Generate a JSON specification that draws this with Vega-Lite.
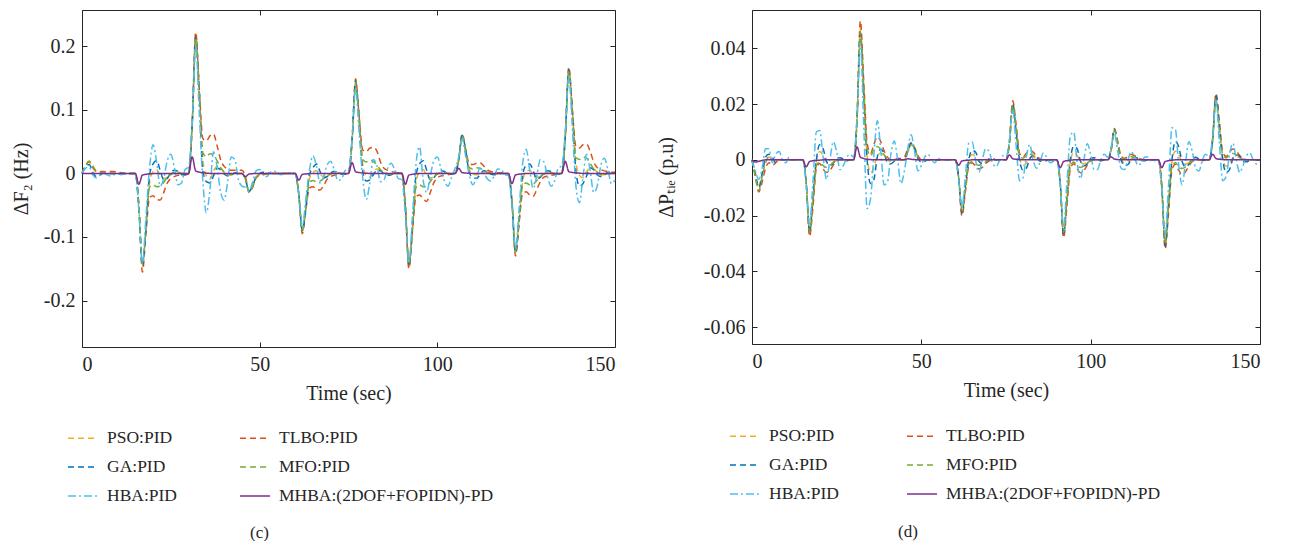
{
"$schema": "https://vega.github.io/schema/vega-lite/v6.json",
"padding": {"left": 11, "top": 6, "right": 0, "bottom": 0},
"spacing": 38,
"resolve": {"scale": {"color": "independent", "strokeDash": "independent"}, "legend": {"color": "independent", "strokeDash": "independent"}},
"config": {
 "font": "Liberation Serif",
 "view": {"stroke": null},
 "axis": {"domainColor": "#262626", "tickColor": "#262626", "labelColor": "#262626", "titleColor": "#262626", "labelFont": "Liberation Serif", "titleFont": "Liberation Serif", "labelFontSize": 20, "titleFontSize": 20, "titleFontWeight": "normal", "grid": false, "tickSize": -5, "domainWidth": 1, "tickWidth": 1},
 "legend": {"labelFont": "Liberation Serif", "labelFontSize": 17.5, "labelColor": "#262626"}
},
"datasets": {
"c": [
{"t":0,"P":0,"T":0,"G":0,"M":0,"H":0,"X":0},
{"t":1,"P":0.011,"T":0.012,"G":0.01,"M":0.012,"H":0.008,"X":0},
{"t":2,"P":0.018,"T":0.019,"G":0.014,"M":0.019,"H":0.01,"X":0},
{"t":3,"P":0.009,"T":0.01,"G":0.002,"M":0.012,"H":-0.002,"X":0},
{"t":4,"P":0.002,"T":0.004,"G":-0.005,"M":0.004,"H":-0.007,"X":0},
{"t":5,"P":0,"T":0.003,"G":-0.003,"M":0.002,"H":-0.003,"X":0},
{"t":6,"P":0,"T":0.003,"G":0.001,"M":0.001,"H":0.001,"X":0},
{"t":7,"P":0,"T":0.002,"G":0,"M":0,"H":-0.002,"X":0},
{"t":8,"P":0,"T":0.003,"G":0,"M":0,"H":-0.004,"X":0},
{"t":9,"P":0,"T":0.003,"G":0,"M":0,"H":-0.002,"X":0},
{"t":10,"P":0,"T":0.002,"G":0,"M":0,"H":0,"X":0},
{"t":11,"P":0,"T":0.001,"G":0,"M":0,"H":-0.002,"X":0},
{"t":12,"P":0,"T":0,"G":0,"M":0,"H":-0.001,"X":0},
{"t":13,"P":0,"T":0,"G":0,"M":0,"H":0,"X":0},
{"t":15,"P":0,"T":0,"G":0,"M":0,"H":0,"X":0},
{"t":16,"P":-0.051,"T":-0.054,"G":-0.051,"M":-0.05,"H":-0.057,"X":-0.017},
{"t":17,"P":-0.147,"T":-0.155,"G":-0.145,"M":-0.143,"H":-0.143,"X":-0.0025},
{"t":18,"P":-0.088,"T":-0.093,"G":-0.087,"M":-0.086,"H":-0.068,"X":-0.0014},
{"t":19,"P":-0.015,"T":-0.038,"G":-0.003,"M":-0.022,"H":0.008,"X":-0.0007},
{"t":20,"P":0.003,"T":-0.035,"G":0.015,"M":-0.018,"H":0.045,"X":-0.0003},
{"t":21,"P":0.006,"T":-0.041,"G":0.02,"M":-0.021,"H":0.018,"X":0},
{"t":22,"P":-0.003,"T":-0.042,"G":0.005,"M":-0.02,"H":-0.02,"X":0},
{"t":23,"P":-0.008,"T":-0.03,"G":-0.01,"M":-0.014,"H":-0.008,"X":0},
{"t":24,"P":-0.006,"T":-0.015,"G":-0.008,"M":-0.006,"H":0.02,"X":0},
{"t":25,"P":-0.002,"T":-0.008,"G":0.002,"M":-0.002,"H":0.03,"X":0},
{"t":26,"P":0.002,"T":-0.005,"G":0.005,"M":0.002,"H":0.009,"X":0},
{"t":27,"P":0.002,"T":-0.003,"G":0.003,"M":0.002,"H":-0.018,"X":0},
{"t":28,"P":0,"T":-0.002,"G":-0.002,"M":0,"H":-0.015,"X":0},
{"t":29,"P":0,"T":-0.002,"G":-0.002,"M":0,"H":0.006,"X":0},
{"t":30,"P":0,"T":-0.001,"G":-0.001,"M":0,"H":0.01,"X":0},
{"t":31,"P":0.075,"T":0.078,"G":0.075,"M":0.075,"H":0.08,"X":0.026},
{"t":32,"P":0.215,"T":0.222,"G":0.215,"M":0.213,"H":0.2,"X":0.004},
{"t":33,"P":0.129,"T":0.133,"G":0.129,"M":0.128,"H":0.095,"X":0.002},
{"t":34,"P":0.022,"T":0.055,"G":0.004,"M":0.033,"H":-0.011,"X":0.001},
{"t":35,"P":-0.004,"T":0.051,"G":-0.013,"M":0.026,"H":-0.062,"X":0.0005},
{"t":36,"P":-0.009,"T":0.059,"G":-0.015,"M":0.031,"H":-0.026,"X":0},
{"t":37,"P":0.004,"T":0.062,"G":-0.004,"M":0.029,"H":0.034,"X":0},
{"t":38,"P":0.011,"T":0.044,"G":0.008,"M":0.02,"H":0.011,"X":0},
{"t":39,"P":0.009,"T":0.022,"G":0.006,"M":0.009,"H":-0.029,"X":0},
{"t":40,"P":0.002,"T":0.011,"G":-0.001,"M":0.002,"H":-0.042,"X":0},
{"t":41,"P":-0.002,"T":0.007,"G":-0.004,"M":-0.002,"H":-0.013,"X":0},
{"t":42,"P":-0.002,"T":0.005,"G":-0.003,"M":-0.002,"H":0.026,"X":0},
{"t":43,"P":0,"T":0.005,"G":0.001,"M":0,"H":0.022,"X":0},
{"t":44,"P":0,"T":0.005,"G":0.001,"M":0,"H":-0.009,"X":0},
{"t":45,"P":0,"T":0.005,"G":0,"M":0,"H":-0.02,"X":0},
{"t":46,"P":-0.009,"T":-0.005,"G":-0.009,"M":-0.009,"H":-0.022,"X":-0.005},
{"t":47,"P":-0.029,"T":-0.03,"G":-0.028,"M":-0.029,"H":-0.028,"X":-0.001},
{"t":48,"P":-0.021,"T":-0.022,"G":-0.02,"M":-0.021,"H":-0.014,"X":-0.0005},
{"t":49,"P":-0.006,"T":-0.007,"G":-0.005,"M":-0.006,"H":0.004,"X":0},
{"t":50,"P":-0.0015,"T":-0.003,"G":0,"M":-0.002,"H":0.006,"X":0},
{"t":51,"P":0,"T":-0.002,"G":0.002,"M":-0.001,"H":-0.003,"X":0},
{"t":52,"P":0,"T":-0.001,"G":0.001,"M":0,"H":-0.005,"X":0},
{"t":53,"P":0,"T":0,"G":0,"M":0,"H":0.002,"X":0},
{"t":54,"P":0,"T":0,"G":0,"M":0,"H":0.004,"X":0},
{"t":55,"P":0,"T":0,"G":0,"M":0,"H":0,"X":0},
{"t":56,"P":0,"T":0,"G":0,"M":0,"H":-0.002,"X":0},
{"t":57,"P":0,"T":0,"G":0,"M":0,"H":0,"X":0},
{"t":58,"P":0,"T":0,"G":0,"M":0,"H":0.001,"X":0},
{"t":60,"P":0,"T":0,"G":0,"M":0,"H":0,"X":0},
{"t":61,"P":-0.032,"T":-0.033,"G":-0.032,"M":-0.032,"H":-0.033,"X":-0.0105},
{"t":62,"P":-0.091,"T":-0.095,"G":-0.09,"M":-0.09,"H":-0.084,"X":-0.0016},
{"t":63,"P":-0.055,"T":-0.057,"G":-0.054,"M":-0.054,"H":-0.04,"X":-0.0008},
{"t":64,"P":-0.009,"T":-0.023,"G":-0.002,"M":-0.014,"H":0.005,"X":-0.0004},
{"t":65,"P":0.002,"T":-0.021,"G":0.009,"M":-0.011,"H":0.028,"X":0},
{"t":66,"P":0.004,"T":-0.025,"G":0.015,"M":-0.013,"H":0.011,"X":0},
{"t":67,"P":-0.002,"T":-0.026,"G":0.003,"M":-0.012,"H":-0.015,"X":0},
{"t":68,"P":-0.005,"T":-0.019,"G":-0.007,"M":-0.008,"H":-0.005,"X":0},
{"t":69,"P":-0.004,"T":-0.009,"G":-0.005,"M":-0.004,"H":0.014,"X":0},
{"t":70,"P":-0.001,"T":-0.005,"G":0.001,"M":-0.001,"H":0.019,"X":0},
{"t":71,"P":0.001,"T":-0.003,"G":0.003,"M":0.001,"H":0.006,"X":0},
{"t":72,"P":0.001,"T":-0.002,"G":0.002,"M":0.001,"H":-0.011,"X":0},
{"t":73,"P":0,"T":-0.001,"G":-0.001,"M":0,"H":-0.009,"X":0},
{"t":74,"P":0,"T":-0.001,"G":-0.001,"M":0,"H":0.004,"X":0},
{"t":75,"P":0,"T":0,"G":0,"M":0,"H":0.006,"X":0},
{"t":76,"P":0.051,"T":0.052,"G":0.051,"M":0.05,"H":0.053,"X":0.017},
{"t":77,"P":0.145,"T":0.149,"G":0.145,"M":0.143,"H":0.133,"X":0.0026},
{"t":78,"P":0.087,"T":0.089,"G":0.087,"M":0.086,"H":0.063,"X":0.0014},
{"t":79,"P":0.015,"T":0.037,"G":0.003,"M":0.022,"H":-0.007,"X":0.0007},
{"t":80,"P":-0.003,"T":0.034,"G":-0.012,"M":0.018,"H":-0.041,"X":0.0003},
{"t":81,"P":-0.006,"T":0.04,"G":-0.01,"M":0.021,"H":-0.015,"X":0},
{"t":82,"P":0.003,"T":0.041,"G":-0.002,"M":0.019,"H":0.022,"X":0},
{"t":83,"P":0.007,"T":0.035,"G":0.005,"M":0.013,"H":0.012,"X":0},
{"t":84,"P":0.006,"T":0.018,"G":0.004,"M":0.006,"H":-0.013,"X":0},
{"t":85,"P":0.001,"T":0.008,"G":-0.001,"M":0.001,"H":-0.01,"X":0},
{"t":86,"P":-0.001,"T":0.005,"G":-0.003,"M":-0.001,"H":0.008,"X":0},
{"t":87,"P":-0.001,"T":0.003,"G":-0.002,"M":-0.001,"H":0.016,"X":0},
{"t":88,"P":0,"T":0.002,"G":0.001,"M":0,"H":0.006,"X":0},
{"t":89,"P":0,"T":0.001,"G":0.001,"M":0,"H":-0.008,"X":0},
{"t":90,"P":0,"T":0.001,"G":0,"M":0,"H":-0.01,"X":0},
{"t":91,"P":-0.051,"T":-0.052,"G":-0.051,"M":-0.05,"H":-0.066,"X":-0.017},
{"t":92,"P":-0.146,"T":-0.15,"G":-0.145,"M":-0.143,"H":-0.14,"X":-0.0026},
{"t":93,"P":-0.088,"T":-0.09,"G":-0.087,"M":-0.086,"H":-0.066,"X":-0.0014},
{"t":94,"P":-0.015,"T":-0.037,"G":-0.003,"M":-0.022,"H":0.015,"X":-0.0007},
{"t":95,"P":0.003,"T":-0.034,"G":0.015,"M":-0.018,"H":0.042,"X":-0.0003},
{"t":96,"P":0.006,"T":-0.04,"G":0.02,"M":-0.021,"H":-0.01,"X":0},
{"t":97,"P":-0.003,"T":-0.044,"G":0.005,"M":-0.02,"H":-0.03,"X":0},
{"t":98,"P":-0.007,"T":-0.03,"G":-0.01,"M":-0.013,"H":-0.005,"X":0},
{"t":99,"P":-0.006,"T":-0.015,"G":-0.007,"M":-0.006,"H":0.02,"X":0},
{"t":100,"P":-0.001,"T":-0.007,"G":0.001,"M":-0.001,"H":0.026,"X":0},
{"t":101,"P":0.001,"T":-0.004,"G":0.004,"M":0.001,"H":0.008,"X":0},
{"t":102,"P":0.001,"T":-0.003,"G":0.003,"M":0.001,"H":-0.012,"X":0},
{"t":103,"P":0,"T":-0.002,"G":-0.001,"M":0,"H":-0.02,"X":0},
{"t":104,"P":0,"T":-0.001,"G":-0.001,"M":0,"H":-0.006,"X":0},
{"t":105,"P":0,"T":0,"G":0,"M":0,"H":0.008,"X":0},
{"t":106,"P":0.021,"T":0.022,"G":0.021,"M":0.021,"H":0.025,"X":0.008},
{"t":107,"P":0.06,"T":0.062,"G":0.06,"M":0.059,"H":0.054,"X":0.0012},
{"t":108,"P":0.036,"T":0.037,"G":0.036,"M":0.035,"H":0.026,"X":0.0006},
{"t":109,"P":0.006,"T":0.015,"G":0.001,"M":0.009,"H":-0.003,"X":0.0003},
{"t":110,"P":-0.001,"T":0.014,"G":-0.006,"M":0.007,"H":-0.018,"X":0},
{"t":111,"P":-0.002,"T":0.016,"G":-0.008,"M":0.009,"H":-0.007,"X":0},
{"t":112,"P":0.001,"T":0.017,"G":-0.002,"M":0.008,"H":0.008,"X":0},
{"t":113,"P":0.003,"T":0.012,"G":0.004,"M":0.005,"H":0.003,"X":0},
{"t":114,"P":0.002,"T":0.006,"G":0.003,"M":0.002,"H":-0.008,"X":0},
{"t":115,"P":0.001,"T":0.003,"G":-0.001,"M":0.001,"H":-0.012,"X":0},
{"t":116,"P":-0.001,"T":0.002,"G":-0.002,"M":-0.001,"H":-0.004,"X":0},
{"t":117,"P":0,"T":0.001,"G":-0.001,"M":0,"H":0.007,"X":0},
{"t":118,"P":0,"T":0.001,"G":0,"M":0,"H":0.006,"X":0},
{"t":119,"P":0,"T":0,"G":0,"M":0,"H":-0.002,"X":0},
{"t":120,"P":0,"T":0,"G":0,"M":0,"H":-0.003,"X":0},
{"t":121,"P":-0.044,"T":-0.046,"G":-0.044,"M":-0.043,"H":-0.05,"X":-0.016},
{"t":122,"P":-0.125,"T":-0.13,"G":-0.125,"M":-0.122,"H":-0.118,"X":-0.0024},
{"t":123,"P":-0.075,"T":-0.078,"G":-0.075,"M":-0.073,"H":-0.056,"X":-0.0013},
{"t":124,"P":-0.013,"T":-0.032,"G":-0.003,"M":-0.019,"H":0.015,"X":-0.0006},
{"t":125,"P":0.003,"T":-0.029,"G":0.013,"M":-0.015,"H":0.038,"X":0},
{"t":126,"P":0.005,"T":-0.034,"G":0.015,"M":-0.018,"H":0.005,"X":0},
{"t":127,"P":-0.003,"T":-0.036,"G":0.004,"M":-0.017,"H":-0.024,"X":0},
{"t":128,"P":-0.006,"T":-0.025,"G":-0.009,"M":-0.011,"H":-0.003,"X":0},
{"t":129,"P":-0.005,"T":-0.013,"G":-0.006,"M":-0.005,"H":0.022,"X":0},
{"t":130,"P":-0.001,"T":-0.006,"G":0.001,"M":-0.001,"H":0.018,"X":0},
{"t":131,"P":0.001,"T":-0.004,"G":0.004,"M":0.001,"H":-0.005,"X":0},
{"t":132,"P":0.001,"T":-0.003,"G":0.003,"M":0.001,"H":-0.02,"X":0},
{"t":133,"P":0,"T":-0.002,"G":-0.001,"M":0,"H":-0.012,"X":0},
{"t":134,"P":0,"T":-0.001,"G":-0.001,"M":0,"H":0.008,"X":0},
{"t":135,"P":0,"T":0,"G":0,"M":0,"H":0.012,"X":0},
{"t":136,"P":0.057,"T":0.058,"G":0.057,"M":0.056,"H":0.065,"X":0.019},
{"t":137,"P":0.164,"T":0.167,"G":0.163,"M":0.16,"H":0.152,"X":0.0029},
{"t":138,"P":0.098,"T":0.1,"G":0.098,"M":0.096,"H":0.072,"X":0.0015},
{"t":139,"P":0.017,"T":0.042,"G":0.003,"M":0.025,"H":-0.02,"X":0.0008},
{"t":140,"P":-0.003,"T":0.04,"G":-0.02,"M":0.022,"H":-0.046,"X":0.0004},
{"t":141,"P":-0.007,"T":0.045,"G":-0.016,"M":0.026,"H":-0.005,"X":0},
{"t":142,"P":0.003,"T":0.046,"G":-0.004,"M":0.024,"H":0.03,"X":0},
{"t":143,"P":0.008,"T":0.035,"G":0.009,"M":0.016,"H":0.005,"X":0},
{"t":144,"P":0.007,"T":0.018,"G":0.006,"M":0.007,"H":-0.03,"X":0},
{"t":145,"P":0.002,"T":0.009,"G":-0.002,"M":0.002,"H":-0.02,"X":0},
{"t":146,"P":-0.002,"T":0.006,"G":-0.005,"M":-0.002,"H":0.012,"X":0},
{"t":147,"P":-0.002,"T":0.004,"G":-0.003,"M":-0.002,"H":0.024,"X":0},
{"t":148,"P":0,"T":0.003,"G":0.002,"M":0,"H":0.006,"X":0},
{"t":149,"P":0,"T":0.002,"G":0.002,"M":0,"H":-0.016,"X":0},
{"t":150,"P":0,"T":0.002,"G":0.001,"M":0,"H":-0.01,"X":0}
],
"d": [
{"t":0,"P":0,"T":0,"G":0,"M":0,"H":0,"X":0},
{"t":1,"P":-0.005,"T":-0.006,"G":-0.005,"M":-0.006,"H":-0.004,"X":-0.0008},
{"t":2,"P":-0.01,"T":-0.0115,"G":-0.01,"M":-0.011,"H":-0.007,"X":-0.0005},
{"t":3,"P":-0.005,"T":-0.008,"G":-0.005,"M":-0.006,"H":-0.003,"X":-0.0002},
{"t":4,"P":0,"T":-0.003,"G":0.001,"M":-0.001,"H":0.004,"X":0},
{"t":5,"P":0.001,"T":-0.001,"G":0.002,"M":0.001,"H":0.004,"X":0},
{"t":6,"P":0,"T":-0.002,"G":0.001,"M":0,"H":-0.001,"X":0},
{"t":7,"P":0,"T":-0.001,"G":-0.001,"M":0,"H":0.002,"X":0},
{"t":8,"P":0,"T":0,"G":0,"M":0,"H":0.003,"X":0},
{"t":9,"P":0,"T":0,"G":0,"M":0,"H":0,"X":0},
{"t":10,"P":0,"T":0,"G":0,"M":0,"H":-0.001,"X":0},
{"t":11,"P":0,"T":0,"G":0,"M":0,"H":0.001,"X":0},
{"t":12,"P":0,"T":0,"G":0,"M":0,"H":0,"X":0},
{"t":15,"P":0,"T":0,"G":0,"M":0,"H":0,"X":0},
{"t":16,"P":-0.008,"T":-0.0085,"G":-0.008,"M":-0.008,"H":-0.009,"X":-0.0025},
{"t":17,"P":-0.026,"T":-0.0275,"G":-0.026,"M":-0.026,"H":-0.023,"X":-0.0006},
{"t":18,"P":-0.014,"T":-0.017,"G":-0.013,"M":-0.015,"H":-0.008,"X":-0.0003},
{"t":19,"P":-0.0005,"T":-0.003,"G":0,"M":-0.002,"H":0.01,"X":-0.0002},
{"t":20,"P":0.003,"T":-0.0013,"G":0.0054,"M":-0.0008,"H":0.0105,"X":-0.0001},
{"t":21,"P":0.0016,"T":-0.0033,"G":0.004,"M":-0.002,"H":0.001,"X":0},
{"t":22,"P":-0.0008,"T":-0.0045,"G":-0.0005,"M":-0.0027,"H":-0.007,"X":0},
{"t":23,"P":-0.0013,"T":-0.0038,"G":-0.002,"M":-0.002,"H":0,"X":0},
{"t":24,"P":-0.0008,"T":-0.0019,"G":-0.0013,"M":-0.001,"H":0.0065,"X":0},
{"t":25,"P":0,"T":-0.0005,"G":0.0005,"M":-0.0003,"H":0.003,"X":0},
{"t":26,"P":0.0003,"T":0,"G":0.0008,"M":0,"H":-0.0035,"X":0},
{"t":27,"P":0,"T":0,"G":0.0003,"M":0,"H":-0.002,"X":0},
{"t":28,"P":0,"T":-0.0003,"G":-0.0003,"M":0,"H":0.001,"X":0},
{"t":29,"P":0,"T":0,"G":0,"M":0,"H":0.002,"X":0},
{"t":30,"P":0,"T":0,"G":0,"M":0,"H":0.001,"X":0},
{"t":31,"P":0.014,"T":0.015,"G":0.014,"M":0.014,"H":0.015,"X":0.0047},
{"t":32,"P":0.047,"T":0.0499,"G":0.0455,"M":0.046,"H":0.042,"X":0.001},
{"t":33,"P":0.024,"T":0.028,"G":0.023,"M":0.026,"H":0.012,"X":0.0005},
{"t":34,"P":0.001,"T":0.006,"G":0,"M":0.004,"H":-0.0175,"X":0.0002},
{"t":35,"P":-0.0047,"T":0.0024,"G":-0.0085,"M":0.0014,"H":-0.014,"X":0.0001},
{"t":36,"P":-0.0028,"T":0.0056,"G":-0.007,"M":0.0038,"H":0.002,"X":0},
{"t":37,"P":0.0014,"T":0.0083,"G":0.001,"M":0.0048,"H":0.014,"X":0},
{"t":38,"P":0.0024,"T":0.0066,"G":0.0038,"M":0.0038,"H":0.004,"X":0},
{"t":39,"P":0.0014,"T":0.0033,"G":0.0024,"M":0.0019,"H":-0.009,"X":0},
{"t":40,"P":0,"T":0.001,"G":-0.001,"M":0.0005,"H":-0.008,"X":0},
{"t":41,"P":-0.0005,"T":0,"G":-0.0014,"M":0,"H":0.002,"X":0},
{"t":42,"P":0,"T":0,"G":-0.0005,"M":0,"H":0.0068,"X":0},
{"t":43,"P":0,"T":0.0005,"G":0.0005,"M":0,"H":0,"X":0},
{"t":44,"P":0,"T":0.0005,"G":0,"M":0,"H":-0.0085,"X":0},
{"t":45,"P":0,"T":0.001,"G":0,"M":0,"H":-0.004,"X":0},
{"t":46,"P":0.003,"T":0.004,"G":0.003,"M":0.003,"H":0.004,"X":0.0004},
{"t":47,"P":0.0055,"T":0.0062,"G":0.006,"M":0.0055,"H":0.009,"X":0.0002},
{"t":48,"P":0.004,"T":0.0045,"G":0.004,"M":0.004,"H":0.003,"X":0.0001},
{"t":49,"P":0.001,"T":0.0015,"G":0.0005,"M":0.001,"H":-0.004,"X":0},
{"t":50,"P":0,"T":0,"G":-0.0008,"M":0,"H":-0.002,"X":0},
{"t":51,"P":0,"T":0,"G":-0.0005,"M":0,"H":0.001,"X":0},
{"t":52,"P":0,"T":0,"G":0,"M":0,"H":0.002,"X":0},
{"t":53,"P":0,"T":0,"G":0,"M":0,"H":0,"X":0},
{"t":54,"P":0,"T":0,"G":0,"M":0,"H":-0.001,"X":0},
{"t":55,"P":0,"T":0,"G":0,"M":0,"H":0.0005,"X":0},
{"t":56,"P":0,"T":0,"G":0,"M":0,"H":0,"X":0},
{"t":60,"P":0,"T":0,"G":0,"M":0,"H":0,"X":0},
{"t":61,"P":-0.006,"T":-0.0065,"G":-0.006,"M":-0.006,"H":-0.007,"X":-0.0019},
{"t":62,"P":-0.019,"T":-0.0201,"G":-0.019,"M":-0.018,"H":-0.017,"X":-0.0004},
{"t":63,"P":-0.0095,"T":-0.0115,"G":-0.0095,"M":-0.01,"H":-0.006,"X":-0.0002},
{"t":64,"P":-0.0004,"T":-0.0023,"G":0,"M":-0.0015,"H":0.006,"X":-0.0001},
{"t":65,"P":0.0019,"T":-0.001,"G":0.0034,"M":-0.0006,"H":0.0065,"X":0},
{"t":66,"P":0.0011,"T":-0.0023,"G":0.0028,"M":-0.0015,"H":0,"X":0},
{"t":67,"P":-0.0006,"T":-0.0032,"G":-0.0004,"M":-0.0019,"H":-0.0045,"X":0},
{"t":68,"P":-0.001,"T":-0.0027,"G":-0.0015,"M":-0.0015,"H":0,"X":0},
{"t":69,"P":-0.0006,"T":-0.0013,"G":-0.001,"M":-0.0008,"H":0.004,"X":0},
{"t":70,"P":0,"T":-0.0004,"G":0.0004,"M":0,"H":0.003,"X":0},
{"t":71,"P":0,"T":0,"G":0.0006,"M":0,"H":-0.001,"X":0},
{"t":72,"P":0,"T":0,"G":0,"M":0,"H":-0.0025,"X":0},
{"t":73,"P":0,"T":0,"G":0,"M":0,"H":-0.0005,"X":0},
{"t":74,"P":0,"T":0,"G":0,"M":0,"H":0.0015,"X":0},
{"t":75,"P":0,"T":0,"G":0,"M":0,"H":0.001,"X":0},
{"t":76,"P":0.006,"T":0.0065,"G":0.006,"M":0.006,"H":0.007,"X":0.0018},
{"t":77,"P":0.02,"T":0.0212,"G":0.02,"M":0.0195,"H":0.018,"X":0.0004},
{"t":78,"P":0.01,"T":0.0125,"G":0.01,"M":0.011,"H":0.005,"X":0.0002},
{"t":79,"P":0.0004,"T":0.0024,"G":0,"M":0.0016,"H":-0.0075,"X":0.0001},
{"t":80,"P":-0.002,"T":0.001,"G":-0.0037,"M":0.0006,"H":-0.0065,"X":0},
{"t":81,"P":-0.0012,"T":0.0024,"G":-0.003,"M":0.0016,"H":0.001,"X":0},
{"t":82,"P":0.0006,"T":0.0034,"G":0.0004,"M":0.002,"H":0.0055,"X":0},
{"t":83,"P":0.001,"T":0.0028,"G":0.0016,"M":0.0016,"H":0,"X":0},
{"t":84,"P":0.0006,"T":0.0014,"G":0.001,"M":0.0008,"H":-0.003,"X":0},
{"t":85,"P":0,"T":0.0004,"G":-0.0004,"M":0.0002,"H":-0.001,"X":0},
{"t":86,"P":0,"T":0,"G":-0.0006,"M":0,"H":0.0025,"X":0},
{"t":87,"P":0,"T":0,"G":-0.0002,"M":0,"H":0.001,"X":0},
{"t":88,"P":0,"T":0,"G":0,"M":0,"H":-0.001,"X":0},
{"t":90,"P":0,"T":0,"G":0,"M":0,"H":0,"X":0},
{"t":91,"P":-0.008,"T":-0.0085,"G":-0.008,"M":-0.008,"H":-0.009,"X":-0.0028},
{"t":92,"P":-0.027,"T":-0.028,"G":-0.027,"M":-0.026,"H":-0.024,"X":-0.0006},
{"t":93,"P":-0.0135,"T":-0.0165,"G":-0.0135,"M":-0.0145,"H":-0.008,"X":-0.0003},
{"t":94,"P":-0.0005,"T":-0.0032,"G":0,"M":-0.0022,"H":0.0085,"X":-0.0001},
{"t":95,"P":0.0027,"T":-0.0014,"G":0.0049,"M":-0.0008,"H":0.01,"X":0},
{"t":96,"P":0.0016,"T":-0.0032,"G":0.004,"M":-0.0022,"H":-0.001,"X":0},
{"t":97,"P":-0.0008,"T":-0.0046,"G":-0.0005,"M":-0.0027,"H":-0.0068,"X":0},
{"t":98,"P":-0.0014,"T":-0.0038,"G":-0.0022,"M":-0.0022,"H":0,"X":0},
{"t":99,"P":-0.0008,"T":-0.0019,"G":-0.0014,"M":-0.0011,"H":0.0058,"X":0},
{"t":100,"P":0,"T":-0.0005,"G":0.0005,"M":-0.0003,"H":0.002,"X":0},
{"t":101,"P":0.0003,"T":0,"G":0.0008,"M":0,"H":-0.0035,"X":0},
{"t":102,"P":0,"T":0,"G":0.0003,"M":0,"H":-0.0035,"X":0},
{"t":103,"P":0,"T":-0.0003,"G":-0.0003,"M":0,"H":0,"X":0},
{"t":104,"P":0,"T":0,"G":0,"M":0,"H":0.002,"X":0},
{"t":105,"P":0,"T":0,"G":0,"M":0,"H":0.001,"X":0},
{"t":106,"P":0.0033,"T":0.0035,"G":0.0033,"M":0.0032,"H":0.004,"X":0.0011},
{"t":107,"P":0.011,"T":0.0113,"G":0.011,"M":0.0105,"H":0.0095,"X":0.0003},
{"t":108,"P":0.0055,"T":0.0066,"G":0.0055,"M":0.006,"H":0.003,"X":0.0001},
{"t":109,"P":0.0002,"T":0.0013,"G":0,"M":0.0009,"H":-0.003,"X":0},
{"t":110,"P":-0.0011,"T":0.0006,"G":-0.002,"M":0.0003,"H":-0.0035,"X":0},
{"t":111,"P":-0.0007,"T":0.0013,"G":-0.0017,"M":0.0009,"H":0,"X":0},
{"t":112,"P":0.0003,"T":0.0019,"G":0.0002,"M":0.0011,"H":0.003,"X":0},
{"t":113,"P":0.0006,"T":0.0015,"G":0.0009,"M":0.0009,"H":0.0005,"X":0},
{"t":114,"P":0.0003,"T":0.0008,"G":0.0005,"M":0.0004,"H":-0.002,"X":0},
{"t":115,"P":0,"T":0.0002,"G":-0.0002,"M":0,"H":-0.001,"X":0},
{"t":116,"P":0,"T":0,"G":-0.0003,"M":0,"H":0.001,"X":0},
{"t":117,"P":0,"T":0,"G":0,"M":0,"H":0.001,"X":0},
{"t":118,"P":0,"T":0,"G":0,"M":0,"H":-0.0005,"X":0},
{"t":120,"P":0,"T":0,"G":0,"M":0,"H":0,"X":0},
{"t":121,"P":-0.0095,"T":-0.0098,"G":-0.0095,"M":-0.009,"H":-0.011,"X":-0.0028},
{"t":122,"P":-0.031,"T":-0.032,"G":-0.031,"M":-0.0295,"H":-0.027,"X":-0.0006},
{"t":123,"P":-0.0155,"T":-0.019,"G":-0.0155,"M":-0.0165,"H":-0.009,"X":-0.0003},
{"t":124,"P":-0.0006,"T":-0.0037,"G":0,"M":-0.0025,"H":0.0115,"X":-0.0001},
{"t":125,"P":0.0031,"T":-0.0016,"G":0.0066,"M":-0.0009,"H":0.011,"X":0},
{"t":126,"P":0.0019,"T":-0.0037,"G":0.0047,"M":-0.0025,"H":-0.002,"X":0},
{"t":127,"P":-0.0009,"T":-0.0053,"G":-0.0006,"M":-0.0031,"H":-0.009,"X":0},
{"t":128,"P":-0.0016,"T":-0.0043,"G":-0.0025,"M":-0.0025,"H":-0.001,"X":0},
{"t":129,"P":-0.0009,"T":-0.0022,"G":-0.0016,"M":-0.0012,"H":0.0065,"X":0},
{"t":130,"P":0,"T":-0.0006,"G":0.0006,"M":-0.0003,"H":0.003,"X":0},
{"t":131,"P":0.0003,"T":0,"G":0.0009,"M":0,"H":-0.003,"X":0},
{"t":132,"P":0,"T":0,"G":0.0003,"M":0,"H":-0.004,"X":0},
{"t":133,"P":0,"T":-0.0003,"G":-0.0003,"M":0,"H":0,"X":0},
{"t":134,"P":0,"T":0,"G":0,"M":0,"H":0.002,"X":0},
{"t":135,"P":0,"T":0,"G":0,"M":0,"H":0.001,"X":0},
{"t":136,"P":0.007,"T":0.0073,"G":0.007,"M":0.0066,"H":0.008,"X":0.002},
{"t":137,"P":0.023,"T":0.0238,"G":0.023,"M":0.0215,"H":0.021,"X":0.0005},
{"t":138,"P":0.0115,"T":0.014,"G":0.0115,"M":0.012,"H":0.006,"X":0.0002},
{"t":139,"P":0.0005,"T":0.0028,"G":0,"M":0.0018,"H":-0.0075,"X":0.0001},
{"t":140,"P":-0.0023,"T":0.0012,"G":-0.0045,"M":0.0007,"H":-0.006,"X":0},
{"t":141,"P":-0.0014,"T":0.0028,"G":-0.0035,"M":0.0018,"H":0.002,"X":0},
{"t":142,"P":0.0007,"T":0.0039,"G":0.0005,"M":0.0023,"H":0.006,"X":0},
{"t":143,"P":0.0012,"T":0.0032,"G":0.0018,"M":0.0018,"H":0,"X":0},
{"t":144,"P":0.0007,"T":0.0016,"G":0.0012,"M":0.0009,"H":-0.0045,"X":0},
{"t":145,"P":0,"T":0.0005,"G":-0.0005,"M":0.0002,"H":-0.002,"X":0},
{"t":146,"P":0,"T":0,"G":-0.0007,"M":0,"H":0.0015,"X":0},
{"t":147,"P":0,"T":0,"G":-0.0002,"M":0,"H":0.0025,"X":0},
{"t":148,"P":0,"T":0,"G":0,"M":0,"H":0,"X":0},
{"t":149,"P":0,"T":0,"G":0,"M":0,"H":-0.0015,"X":0},
{"t":150,"P":0,"T":0,"G":0,"M":0,"H":-0.001,"X":0}
]
},
"hconcat": [
{
 "width": 533, "height": 337,
 "data": {"name": "c"},
 "transform": [{"fold": ["P", "T", "G", "M", "H", "X"], "as": ["s", "v"]}],
 "title": {"text": "(c)", "orient": "bottom", "anchor": "start", "frame": "group", "dx": 168, "offset": 20, "fontSize": 17, "fontWeight": "normal", "font": "Liberation Serif", "color": "#262626"},
 "layer": [
  {
   "mark": {"type": "line", "strokeWidth": 1.5, "interpolate": "monotone"},
   "encoding": {
    "x": {"field": "t", "type": "quantitative", "scale": {"domain": [0, 150], "nice": false, "zero": false}, "axis": {"values": [0, 50, 100, 150], "title": "Time (sec)", "labelPadding": 12, "titlePadding": 9}},
    "y": {"field": "v", "type": "quantitative", "scale": {"domain": [-0.273, 0.257], "nice": false, "zero": false}, "axis": {"values": [-0.2, -0.1, 0, 0.1, 0.2], "title": "ΔF₂ (Hz)", "labelPadding": 12, "titlePadding": 12, "labelExpr": "replace(format(datum.value, '~g'), '−', '-')"}},
    "color": {"field": "s", "type": "nominal", "scale": {"domain": ["P", "T", "G", "M", "H", "X"], "range": ["#EDB120", "#D95319", "#0072BD", "#77AC30", "#4DBEEE", "#7E2F8E"]},
     "legend": {"orient": "none", "legendX": -15, "legendY": 412, "columns": 2, "direction": "horizontal", "title": null, "symbolType": "stroke", "symbolSize": 900, "symbolStrokeWidth": 1.5, "columnPadding": 59, "rowPadding": 4, "labelOffset": 8, "labelLimit": 400,
      "labelExpr": "datum.label=='P'?'PSO:PID':datum.label=='T'?'TLBO:PID':datum.label=='G'?'GA:PID':datum.label=='M'?'MFO:PID':datum.label=='H'?'HBA:PID':'MHBA:(2DOF+FOPIDN)-PD'"}},
    "strokeDash": {"field": "s", "type": "nominal", "scale": {"domain": ["P", "T", "G", "M", "H", "X"], "range": [[6, 4], [6, 4], [6, 4], [6, 4], [8, 3, 2, 3], [1, 0]]}}
   }
  },
  {
   "mark": {"type": "point", "opacity": 0},
   "encoding": {
    "x": {"field": "t", "type": "quantitative", "scale": {"domain": [0, 150], "nice": false, "zero": false}, "axis": {"orient": "top", "values": [0, 50, 100, 150], "labels": false, "title": null}},
    "y": {"field": "v", "type": "quantitative", "scale": {"domain": [-0.273, 0.257], "nice": false, "zero": false}, "axis": {"orient": "right", "values": [-0.2, -0.1, 0, 0.1, 0.2], "labels": false, "title": null}}
   }
  }
 ],
 "resolve": {"axis": {"x": "independent", "y": "independent"}}
},
{
 "width": 508, "height": 334,
 "data": {"name": "d"},
 "transform": [{"fold": ["P", "T", "G", "M", "H", "X"], "as": ["s", "v"]}],
 "title": {"text": "(d)", "orient": "bottom", "anchor": "start", "frame": "group", "dx": 146, "offset": 21, "fontSize": 17, "fontWeight": "normal", "font": "Liberation Serif", "color": "#262626"},
 "layer": [
  {
   "mark": {"type": "line", "strokeWidth": 1.5, "interpolate": "monotone"},
   "encoding": {
    "x": {"field": "t", "type": "quantitative", "scale": {"domain": [0, 150], "nice": false, "zero": false}, "axis": {"values": [0, 50, 100, 150], "title": "Time (sec)", "labelPadding": 12, "titlePadding": 9}},
    "y": {"field": "v", "type": "quantitative", "scale": {"domain": [-0.0661, 0.0538], "nice": false, "zero": false}, "axis": {"values": [-0.06, -0.04, -0.02, 0, 0.02, 0.04], "title": "ΔPₜᵢₑ (p.u)", "labelPadding": 12, "titlePadding": 27, "labelExpr": "replace(format(datum.value, '~g'), '−', '-')"}},
    "color": {"field": "s", "type": "nominal", "scale": {"domain": ["P", "T", "G", "M", "H", "X"], "range": ["#EDB120", "#D95319", "#0072BD", "#77AC30", "#4DBEEE", "#7E2F8E"]},
     "legend": {"orient": "none", "legendX": -23, "legendY": 410, "columns": 2, "direction": "horizontal", "title": null, "symbolType": "stroke", "symbolSize": 900, "symbolStrokeWidth": 1.5, "columnPadding": 64, "rowPadding": 4, "labelOffset": 8, "labelLimit": 400,
      "labelExpr": "datum.label=='P'?'PSO:PID':datum.label=='T'?'TLBO:PID':datum.label=='G'?'GA:PID':datum.label=='M'?'MFO:PID':datum.label=='H'?'HBA:PID':'MHBA:(2DOF+FOPIDN)-PD'"}},
    "strokeDash": {"field": "s", "type": "nominal", "scale": {"domain": ["P", "T", "G", "M", "H", "X"], "range": [[6, 4], [6, 4], [6, 4], [6, 4], [8, 3, 2, 3], [1, 0]]}}
   }
  },
  {
   "mark": {"type": "point", "opacity": 0},
   "encoding": {
    "x": {"field": "t", "type": "quantitative", "scale": {"domain": [0, 150], "nice": false, "zero": false}, "axis": {"orient": "top", "values": [0, 50, 100, 150], "labels": false, "title": " ", "titleFontSize": 2, "titlePadding": 1}},
    "y": {"field": "v", "type": "quantitative", "scale": {"domain": [-0.0661, 0.0538], "nice": false, "zero": false}, "axis": {"orient": "right", "values": [-0.06, -0.04, -0.02, 0, 0.02, 0.04], "labels": false, "title": null}}
   }
  }
 ],
 "resolve": {"axis": {"x": "independent", "y": "independent"}}
}
]
}
